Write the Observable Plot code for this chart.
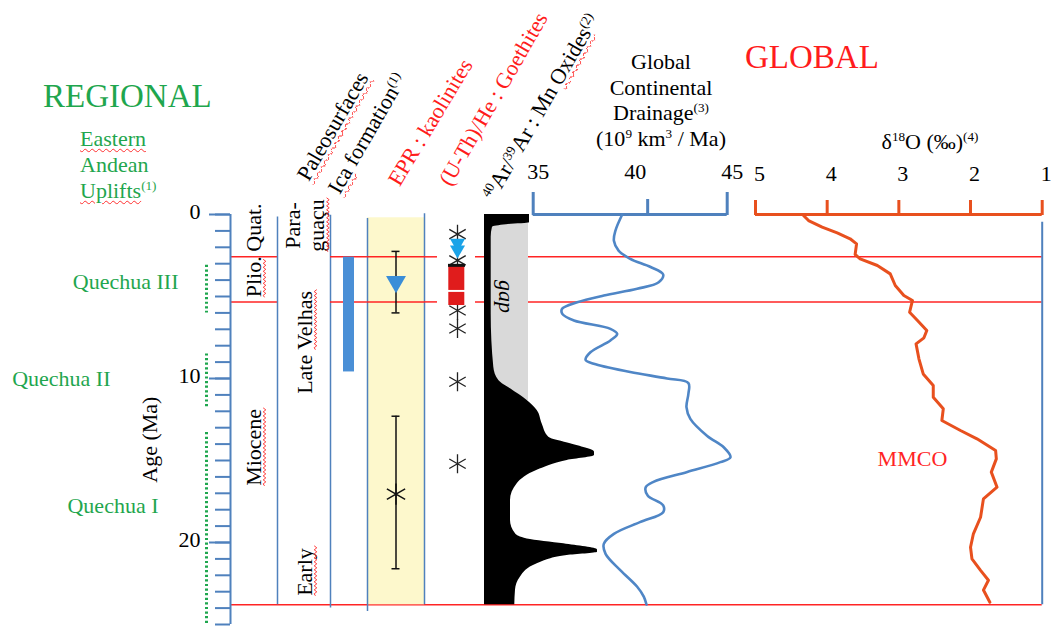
<!DOCTYPE html>
<html><head><meta charset="utf-8">
<script src="https://cdn.jsdelivr.net/npm/d3@7"></script>
<script src="https://cdn.jsdelivr.net/npm/@observablehq/plot@0.6"></script>
<style>
body{margin:0;background:#fff;}
#fig{position:relative;width:1052px;height:626px;font-family:"Liberation Serif","Times New Roman",serif;overflow:hidden;background:#fff}
#fig svg{position:absolute;left:0;top:0}
.h{position:absolute;white-space:nowrap;line-height:1;}
.sup{font-size:0.6em;position:relative;top:-0.55em}
.sq{text-decoration:underline wavy #ff3030;text-decoration-thickness:1px;text-underline-offset:2px}
</style></head><body><div id="fig"></div><script>
// ---------------- DATA ----------------
const ageMinorTicks = d3.range(0, 26);
const ageLabelTicks = [0, 10, 20];
const drainageTicks = [35, 40, 45];
const drainageBracketTick = [40.9];
const d18OTicks = [5, 4, 3, 2, 1];
const boundaries = [2.58, 5.33];       // Quat./Plio., Plio./Miocene
const baseAge = 23.8;

const quechua = [
  {name: "Quechua III", top: 3.1, bottom: 6.0, labelAge: 4.1},
  {name: "Quechua II", top: 8.5, bottom: 11.8, labelAge: 10.0},
  {name: "Quechua I", top: 13.3, bottom: 25, labelAge: 17.8}
];
const epochs = [
  {label: "Quat.", age: 0.8}, {label: "Plio.", age: 3.8}, {label: "Miocene", age: 14.2}
];
const paleosurfaces = [
  {label: "Para-\nguaçu", age: 0.67}, {label: "Late Velhas", age: 7.8}, {label: "Early", age: 21.8}
];
const icaFormation = [{top: 2.6, bottom: 9.6}];
const eprKaolinites = [
  {age: 4.1, lo: 2.25, hi: 6.0, kind: "triangle"},
  {age: 17.05, lo: 12.3, hi: 21.6, kind: "asterisk"}
];
const uthheStars = [1.2, 2.8, 5.85, 6.95, 10.2, 15.2];
const uthheTriangles = [1.75, 2.15];
const uthheSquares = [{top: 3.17, bottom: 4.63}, {top: 4.75, bottom: 5.55}];
const uthheDash = [3.1];

const ararGap = [{top: 0.55, bottom: 11.35, label: "gap", labelAge: 5.0}];
const ararAge =   [0, 0.5, 0.62, 0.77, 1.38, 6.06, 9.31, 10.12, 10.63, 11.34, 11.95, 12.77, 13.58, 13.98, 14.49, 14.7, 15.0, 15.6, 16.42, 17.44, 18.66, 19.47, 19.78, 20.08, 20.45, 20.59, 20.79, 21.3, 22.1, 22.9, 23.8];
const ararWidth = [45, 45, 22, 8, 6.7, 6.7, 9.3, 14.3, 26, 42.7, 52.7, 57.7, 64.3, 86, 110, 110, 82.7, 52.7, 32.7, 26, 26, 31, 42.7, 79.3, 113, 113, 82.7, 52.7, 36, 31, 30.3];

const drainageAge =   [0, 0.98, 1.6, 2.2, 2.7, 3.2, 3.66, 4.13, 4.53, 4.94, 5.35, 5.75, 6.06, 6.46, 6.97, 7.28, 7.68, 8.4, 8.86, 9.1, 9.6, 10.0, 10.28, 10.93, 11.75, 12.46, 13.5, 14.19, 14.8, 15.1, 15.7, 16.3, 16.63, 17.13, 17.74, 18.15, 18.76, 19.47, 20.08, 20.69, 21.7, 22.7, 23.3, 23.78];
const drainageValue = [39.59, 39.24, 39.16, 39.4, 40.0, 41.05, 41.7, 41.47, 40.36, 38.64, 37.27, 36.49, 36.5, 37.1, 38.98, 39.33, 38.98, 37.95, 37.7, 38.12, 40.0, 41.9, 43.0, 43.0, 42.9, 43.1, 43.97, 44.82, 45.17, 44.65, 42.94, 41.2, 40.8, 40.9, 41.7, 41.7, 40.5, 39.16, 38.64, 38.73, 39.5, 40.36, 40.7, 40.84];

const d18OAge =   [0.06, 0.37, 0.77, 1.12, 1.48, 1.79, 2.44, 2.7, 3.11, 3.62, 4.33, 4.94, 5.24, 5.96, 6.46, 7.07, 7.52, 7.89, 8.8, 9.72, 10.43, 11.14, 11.85, 12.56, 13.17, 13.68, 14.39, 14.9, 15.71, 16.63, 17.34, 18.46, 19.47, 20.29, 21.0, 21.7, 22.3, 22.9, 23.64];
const d18OValue = [4.33, 4.26, 4.07, 3.86, 3.68, 3.59, 3.61, 3.54, 3.30, 3.12, 3.05, 2.93, 2.81, 2.85, 2.74, 2.61, 2.65, 2.76, 2.72, 2.66, 2.52, 2.52, 2.38, 2.40, 2.14, 1.91, 1.65, 1.64, 1.71, 1.63, 1.82, 1.86, 1.96, 2.0, 1.98, 1.86, 1.75, 1.82, 1.73];
const mmco = [{text: "MMCO", age: 14.9, value: 2.81}];

const squiggleWords = ["Plio", "Miocene", "guaçu", "Velhas", "Early"];

// ---------------- LAYOUT / STYLE ----------------
const W = 1052, H = 626;
const fig = document.getElementById("fig");
const FONT = '"Liberation Serif", "Times New Roman", serif';
const BLUE = "#4f81bd", RED = "#ff2424", ORANGE = "#e8501e", GREEN = "#1fa64e";
const quechuaLabelDx = {"Quechua III": -28, "Quechua II": -96, "Quechua I": -48};
const SVGNS = "http://www.w3.org/2000/svg";

// red "spell-check" wavy underline under given words of SVG texts
function squiggle(svg, words) {
  svg.querySelectorAll("text").forEach(el => {
    const t = el.textContent;
    for (const w of words) {
      const i = t.indexOf(w);
      if (i < 0) continue;
      const p0 = el.getStartPositionOfChar(i), p1 = el.getEndPositionOfChar(i + w.length - 1);
      const y = p0.y + 3.5;
      let d = `M${p0.x.toFixed(1)},${y}`;
      for (let x = p0.x, k = 0; x < p1.x + 1; x += 2, k++) d += `L${(x + 2).toFixed(1)},${(y + (k % 2 ? 1.3 : -1.3)).toFixed(1)}`;
      const path = document.createElementNS(SVGNS, "path");
      path.setAttribute("d", d);
      path.setAttribute("fill", "none");
      path.setAttribute("stroke", "#ff3a3a");
      path.setAttribute("stroke-width", "1");
      const tr = el.getAttribute("transform");
      if (tr) path.setAttribute("transform", tr);
      el.parentNode.appendChild(path);
      break;
    }
  });
}

function panel(left, right, marks, x = {domain: [0, 1]}) {
  const svg = Plot.plot({
    width: W, height: H,
    marginLeft: left, marginRight: W - right, marginTop: 214, marginBottom: 2,
    x: {...x, axis: null, label: null},
    y: {domain: [0, 25], reverse: true, axis: null, label: null},
    style: {fontFamily: FONT, fontSize: "22px", background: "none", overflow: "visible"},
    marks
  });
  fig.appendChild(svg);
  squiggle(svg, squiggleWords);
  return svg;
}

const redLine = {stroke: RED, strokeWidth: 1.5};
const colLine = {stroke: BLUE, strokeWidth: 1.5};
const num = d => String(d);

// background red lines
panel(230, 1041.7, [Plot.ruleY([baseAge], redLine)]);
panel(475, 1041.7, [Plot.ruleY(boundaries, redLine)]);

// regional (Quechua uplift phases)
panel(0, 206, [
  Plot.ruleX(quechua, {x: () => 1, y1: "top", y2: "bottom", stroke: GREEN, strokeWidth: 3, strokeDasharray: "2.2 2.4"}),
  ...quechua.map(q => Plot.text([q], {frameAnchor: "right", y: "labelAge", text: "name", textAnchor: "end",
    dx: quechuaLabelDx[q.name], fill: GREEN, fontSize: 22})),
  Plot.text(["Age (Ma)"], {frameAnchor: "right", y: 11.1, text: d => d, rotate: -90, dx: -57, fontSize: 22, fill: "black"})
]);

// epochs + age axis
panel(230, 277, [
  Plot.ruleY(boundaries, redLine),
  Plot.axisY({anchor: "left", ticks: ageMinorTicks, tickSize: 15, tickFormat: () => "", stroke: BLUE, strokeWidth: 2, label: null}),
  Plot.axisY({anchor: "left", ticks: ageLabelTicks, tickSize: 21, tickFormat: () => "", stroke: BLUE, strokeWidth: 2, label: null}),
  Plot.axisY({anchor: "left", ticks: ageLabelTicks, tickSize: 0, tickPadding: 30, tickFormat: num, fontSize: 22, dy: -3, label: null}),
  Plot.ruleX([0], {y1: 0, y2: 25, stroke: BLUE, strokeWidth: 2}),
  Plot.text(epochs, {y: "age", text: "label", rotate: -90, fontSize: 22})
]);

// paleosurfaces
panel(277, 330, [
  Plot.ruleX([0], {y1: 0.15, y2: baseAge, ...colLine}),
  Plot.text(paleosurfaces, {y: "age", text: "label", rotate: -90, fontSize: 22, lineHeight: 1.13})
]);

// Ica formation
panel(330, 367, [
  Plot.ruleX([0], {y1: 0.05, y2: 24, ...colLine}),
  Plot.ruleY(boundaries, redLine),
  Plot.rect(icaFormation, {y1: "top", y2: "bottom", insetLeft: 13, insetRight: 13, fill: "#4a8fd6"})
]);

// EPR kaolinites
panel(367, 424, [
  Plot.rect([{top: 0.2, bottom: baseAge}], {y1: "top", y2: "bottom", fill: "#fdf8cc"}),
  Plot.ruleX([0], {y1: 0.25, y2: 24.2, ...colLine}),
  Plot.ruleX([1], {y1: -0.05, y2: baseAge, ...colLine}),
  Plot.ruleY(boundaries, redLine),
  Plot.ruleX(eprKaolinites, {x: null, y1: "lo", y2: "hi", stroke: "#111", strokeWidth: 1.5}),
  Plot.tickY(eprKaolinites, {y: "lo", insetLeft: 24.5, insetRight: 24.5, stroke: "#111", strokeWidth: 1.5}),
  Plot.tickY(eprKaolinites, {y: "hi", insetLeft: 24.5, insetRight: 24.5, stroke: "#111", strokeWidth: 1.5}),
  Plot.dot(eprKaolinites.filter(d => d.kind === "triangle"), {y: "age", symbol: "triangle", r: 7.4, fill: "#3a8ed8", rotate: 180}),
  Plot.dot(eprKaolinites.filter(d => d.kind === "asterisk"), {y: "age", symbol: "asterisk", r: 10, stroke: "#111", strokeWidth: 1.5})
]);

// (U-Th)/He goethites
panel(424, 490, [
  Plot.ruleY(boundaries, {...redLine, insetRight: 53}),
  Plot.dot(uthheStars, {y: d => d, symbol: "asterisk", r: 9, stroke: "#222", strokeWidth: 1.3}),
  Plot.dot(uthheTriangles, {y: d => d, symbol: "triangle", r: 5.6, fill: "#1ba3e8", rotate: 180}),
  Plot.rect(uthheSquares, {y1: "top", y2: "bottom", insetLeft: 24.3, insetRight: 25.7, fill: "#e01c1c"}),
  Plot.tickY(uthheDash, {y: d => d, insetLeft: 24, insetRight: 25, stroke: "#111", strokeWidth: 3})
]);

// 40Ar/39Ar Mn oxides
const arar = ararAge.map((a, i) => ({age: a, w: ararWidth[i]}));
panel(484, 600, [
  Plot.rect(ararGap, {x1: 0, x2: 44, y1: "top", y2: "bottom", fill: "#d9d9d9"}),
  Plot.areaX(arar, {x: "w", y: "age", fill: "black", curve: "monotone-y"}),
  Plot.text(ararGap, {x: 22, y: "labelAge", text: "label", rotate: 90, fontSize: 22, fontStyle: "italic"})
], {domain: [0, 116]});

// Global continental drainage
const drainage = drainageAge.map((a, i) => ({age: a, v: drainageValue[i]}));
panel(532.7, 726.7, [
  Plot.ruleY([0], {stroke: BLUE, strokeWidth: 3}),
  Plot.axisX({anchor: "top", ticks: [35, 45], tickSize: 23, tickFormat: () => "", stroke: BLUE, strokeWidth: 3, label: null}),
  Plot.axisX({anchor: "top", ticks: drainageBracketTick, tickSize: 16, tickFormat: () => "", stroke: BLUE, strokeWidth: 3, label: null}),
  Plot.axisX({anchor: "top", ticks: drainageTicks, tickSize: 0, tickPadding: 36, tickFormat: num, fontSize: 22, dx: 5, label: null}),
  Plot.line(drainage, {x: "v", y: "age", stroke: "#4f86c6", strokeWidth: 2.6, curve: "catmull-rom"})
], {domain: [35, 45]});

// delta 18O
const d18O = d18OAge.map((a, i) => ({age: a, v: d18OValue[i]}));
panel(755, 1041.7, [
  Plot.ruleX([1], {y1: 0.47, y2: baseAge, stroke: BLUE, strokeWidth: 2}),
  Plot.ruleY([0], {stroke: ORANGE, strokeWidth: 3}),
  Plot.axisX({anchor: "top", ticks: d18OTicks, tickSize: 15, tickFormat: () => "", stroke: ORANGE, strokeWidth: 3, label: null}),
  Plot.axisX({anchor: "top", ticks: d18OTicks, tickSize: 0, tickPadding: 34, tickFormat: num, fontSize: 22, dx: 4, label: null}),
  Plot.line(d18O, {x: "v", y: "age", stroke: ORANGE, strokeWidth: 3}),
  Plot.text(mmco, {x: "value", y: "age", text: "text", fill: RED, fontSize: 22})
], {domain: [5, 1]});

// ---------------- HEADERS ----------------
function label(html, x, y, o = {}) {
  const size = o.size ?? 22;
  const d = document.createElement("div");
  d.className = "h";
  d.innerHTML = html;
  const base = 0.8375 * size;
  Object.assign(d.style, {left: x + "px", top: (y - base) + "px", fontSize: size + "px", color: o.color ?? "#000"});
  if (o.rotate) { d.style.transformOrigin = `0px ${base}px`; d.style.transform = `rotate(${o.rotate}deg)`; }
  if (o.center) d.style.transform = "translateX(-50%)";
  fig.appendChild(d);
}
label("REGIONAL", 43, 108, {size: 33, color: GREEN});
label('<span class="sq">Eastern</span>', 80, 146, {color: GREEN});
label("Andean", 80, 172, {color: GREEN});
label('<span class="sq">Uplifts</span><span class="sup">(1)</span>', 80, 198, {color: GREEN});
label("GLOBAL", 745, 69, {size: 33, color: "#ff1c1c"});
label("Global", 661, 69, {center: true});
label("Continental", 661, 95, {center: true});
label('Drainage<span class="sup">(3)</span>', 661, 120, {center: true});
label('(10<span class="sup">9</span> km<span class="sup">3</span> / Ma)', 661, 146, {center: true});
label('δ<span class="sup">18</span>O (‰)<span class="sup">(4)</span>', 930, 149, {center: true});
label('<span class="sq">Paleosurfaces</span>', 309, 182, {rotate: -60});
label('<span class="sq">Ica</span> formation<span class="sup">(1)</span>', 340, 195, {rotate: -60});
label("EPR : kaolinites", 400, 187, {rotate: -59, color: "#ff1c1c"});
label("(U-Th)/He : Goethites", 451, 187, {rotate: -60, color: "#ff1c1c"});
label('<span class="sup">40</span>Ar/<span class="sup">39</span>Ar : Mn <span class="sq">Oxides</span><span class="sup">(2)</span>', 495, 201, {rotate: -60});
</script></body></html>
